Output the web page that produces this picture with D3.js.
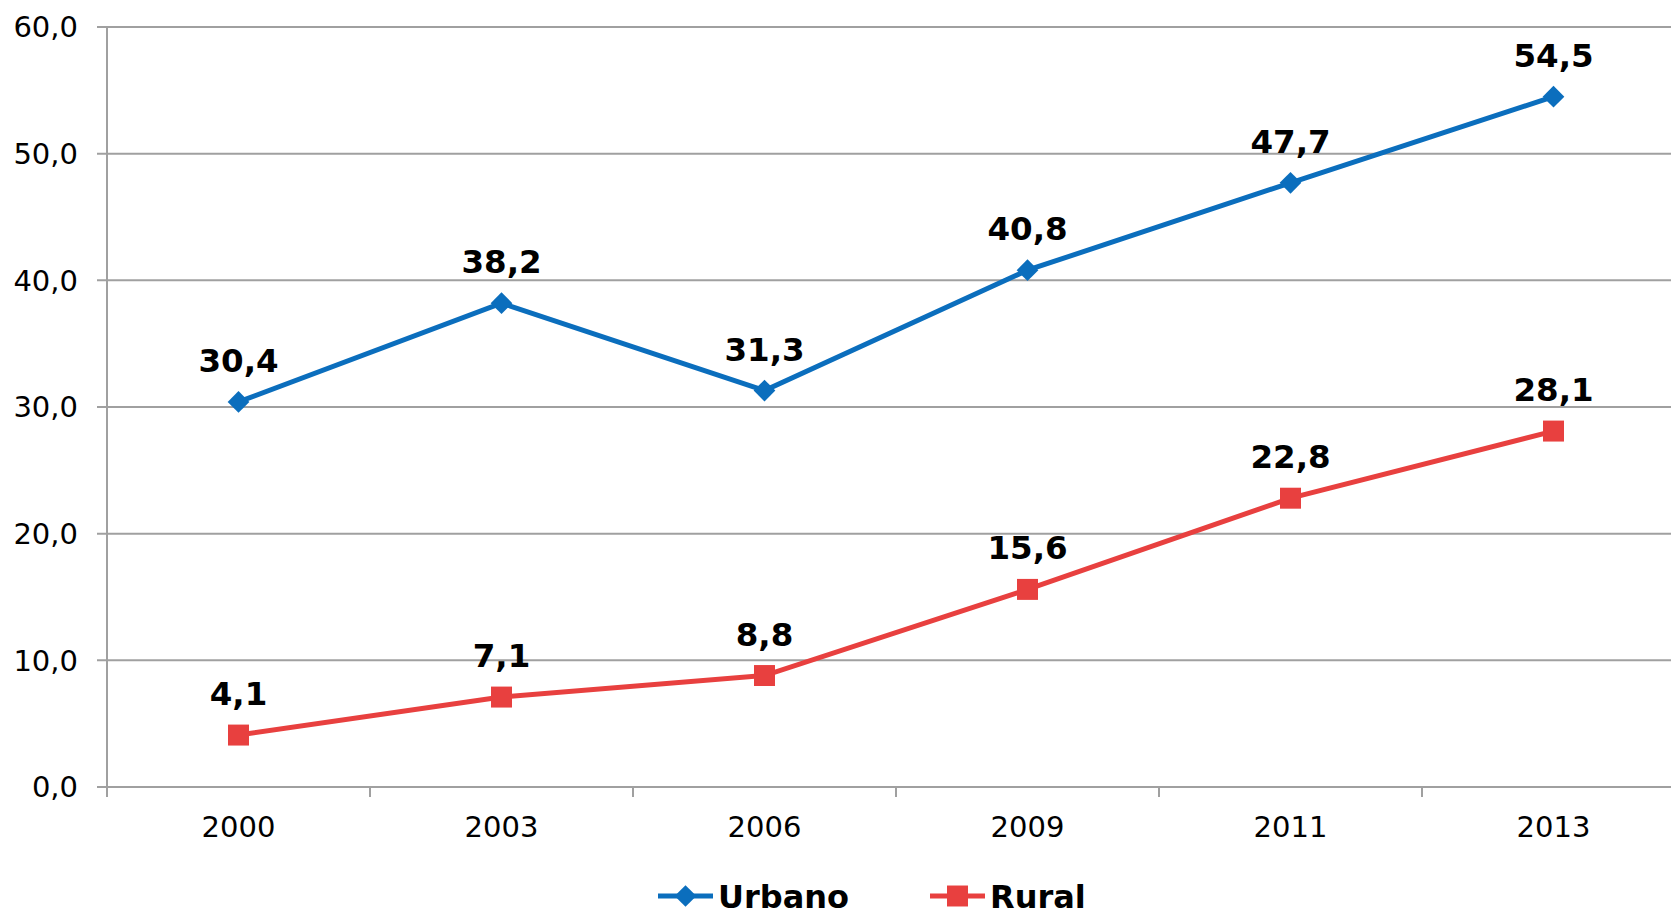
<!DOCTYPE html>
<html>

<head>
  <meta charset="UTF-8">
  <title>Urbano / Rural</title>
  <script src="https://d3js.org/d3.v7.min.js"></script>
  <style>
    body {
      margin: 0;
      background: #fff;
    }

    svg text {
      font-family: "DejaVu Sans", Verdana, sans-serif;
    }
  </style>
</head>

<body>
  <svg></svg>

  <script>
    // data
    const years = ["2000", "2003", "2006", "2009", "2011", "2013"];
    const urbano = [30.4, 38.2, 31.3, 40.8, 47.7, 54.5];
    const rural = [4.1, 7.1, 8.8, 15.6, 22.8, 28.1];
    const yTicks = [0, 10, 20, 30, 40, 50, 60];

    const width = 1671,
      height = 911;

    const svg = d3.select("svg")
      .attr("width", width)
      .attr("height", height);

    // plot area runs off the right edge, like the original crop
    const plotLeft = 107,
      plotTop = 27,
      plotBottom = 787,
      band = 263;

    const x = d3.scaleBand()
      .domain(years)
      .range([plotLeft, plotLeft + band * years.length]);

    const y = d3.scaleLinear()
      .domain([0, 60])
      .range([plotBottom, plotTop]);

    const fmt = v => d3.format(".1f")(v).replace(".", ",");

    // grid lines
    svg.append("g")
      .selectAll("line")
      .data(yTicks)
      .enter()
      .append("line")
      .attr("x1", plotLeft - 10)
      .attr("x2", width)
      .attr("y1", d => y(d))
      .attr("y2", d => y(d))
      .attr("stroke", "#a0a0a0")
      .attr("stroke-width", 2);

    // y axis line
    svg.append("line")
      .attr("x1", plotLeft).attr("x2", plotLeft)
      .attr("y1", plotTop).attr("y2", plotBottom)
      .attr("stroke", "#a0a0a0")
      .attr("stroke-width", 2);

    // y labels
    svg.append("g")
      .selectAll("text")
      .data(yTicks)
      .enter()
      .append("text")
      .attr("x", 78)
      .attr("y", d => y(d))
      .attr("dy", "0.36em")
      .attr("text-anchor", "end")
      .attr("font-size", 29)
      .attr("fill", "#000")
      .text(fmt);

    // x tick marks (category boundaries)
    const bounds = d3.range(years.length + 1).map(i => plotLeft + i * band);
    svg.append("g")
      .selectAll("line")
      .data(bounds)
      .enter()
      .append("line")
      .attr("x1", d => d).attr("x2", d => d)
      .attr("y1", plotBottom).attr("y2", plotBottom + 10)
      .attr("stroke", "#a0a0a0")
      .attr("stroke-width", 2);

    // x labels
    svg.append("g")
      .selectAll("text")
      .data(years)
      .enter()
      .append("text")
      .attr("x", d => x(d) + x.bandwidth() / 2)
      .attr("y", 837)
      .attr("text-anchor", "middle")
      .attr("font-size", 29)
      .attr("fill", "#000")
      .text(d => d);

    const series = [
      { name: "Urbano", values: urbano, color: "#0b6ebd", shape: d3.symbolDiamond2 },
      { name: "Rural", values: rural, color: "#e8403f", shape: d3.symbolSquare }
    ];

    const line = d3.line()
      .x((d, i) => x(years[i]) + x.bandwidth() / 2)
      .y(d => y(d));

    series.forEach(s => {
      const g = svg.append("g");

      g.append("path")
        .datum(s.values)
        .attr("d", line)
        .attr("fill", "none")
        .attr("stroke", s.color)
        .attr("stroke-width", 5);

      g.selectAll(".mark")
        .data(s.values)
        .enter()
        .append("path")
        .attr("class", "mark")
        .attr("transform", (d, i) => "translate(" + (x(years[i]) + x.bandwidth() / 2) + "," + y(d) + ")")
        .attr("d", d3.symbol().type(s.shape).size(s.shape === d3.symbolSquare ? 440 : 300))
        .attr("fill", s.color);

      g.selectAll(".lbl")
        .data(s.values)
        .enter()
        .append("text")
        .attr("class", "lbl")
        .attr("x", (d, i) => x(years[i]) + x.bandwidth() / 2)
        .attr("y", d => y(d) - 30)
        .attr("text-anchor", "middle")
        .attr("font-size", 32.5)
        .attr("font-weight", "bold")
        .attr("fill", "#000")
        .text(fmt);
    });

    // legend
    const legendPos = [658, 930];
    const legend = svg.append("g");
    series.forEach((s, i) => {
      const lx = legendPos[i],
        ly = 896;
      legend.append("line")
        .attr("x1", lx).attr("x2", lx + 55)
        .attr("y1", ly).attr("y2", ly)
        .attr("stroke", s.color)
        .attr("stroke-width", 5);
      legend.append("path")
        .attr("transform", "translate(" + (lx + 27.5) + "," + ly + ")")
        .attr("d", d3.symbol().type(s.shape).size(s.shape === d3.symbolSquare ? 440 : 300))
        .attr("fill", s.color);
      legend.append("text")
        .attr("x", lx + 60)
        .attr("y", ly + 12)
        .attr("font-size", 32)
        .attr("font-weight", "bold")
        .attr("fill", "#000")
        .text(s.name);
    });
  </script>

</body>

</html>
